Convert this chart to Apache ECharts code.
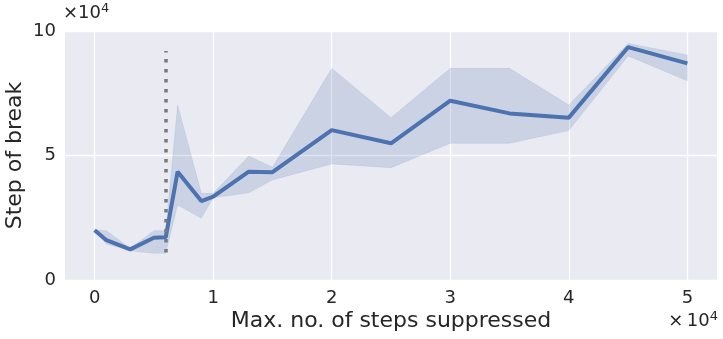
<!DOCTYPE html>
<html>
<head>
<meta charset="utf-8">
<script src="https://cdn.jsdelivr.net/npm/echarts@6/dist/echarts.min.js"></script>
<style>
  html, body { margin: 0; padding: 0; background: #fff; }
  #chart { width: 723px; height: 339px; }
</style>
</head>
<body>
<div id="chart"></div>
<script>
/* data, in units of 1e4 */
var steps = [0, 0.1, 0.3, 0.5, 0.6, 0.7, 0.9, 1.0, 1.3, 1.5, 2, 2.5, 3, 3.5, 4, 4.5, 5];
var breakMean = [2.0, 1.6, 1.23, 1.7, 1.72, 4.35, 3.17, 3.35, 4.35, 4.33, 6.02, 5.49, 7.2, 6.69, 6.52, 9.35, 8.7];
var breakLow = [1.95, 1.45, 1.17, 1.07, 1.07, 3.01, 2.48, 3.3, 3.5, 4.02, 4.66, 4.51, 5.49, 5.49, 6.0, 9.0, 8.0];
var breakHigh = [2.02, 1.98, 1.28, 1.98, 1.98, 7.03, 3.48, 3.48, 4.98, 4.53, 8.5, 6.52, 8.5, 8.5, 7.03, 9.5, 9.04];
var xTicks = [0, 1, 2, 3, 4, 5];
var cutoff = 0.6;
var cutoffSpan = [1.1, 9.2];

var blue = '#4C72B0';
var chart = echarts.init(document.getElementById('chart'));

var bandData = steps.map(function (x, i) { return [x, breakLow[i], breakHigh[i]]; });
var meanData = steps.map(function (x, i) { return [x, breakMean[i]]; });

// confidence band drawn as one polygon (upper edge then lower edge back)
function renderBand(params, api) {
    if (params.dataIndex !== 0) return;
    var pts = [];
    var i;
    for (i = 0; i < bandData.length; i++) pts.push(api.coord([bandData[i][0], bandData[i][2]]));
    for (i = bandData.length - 1; i >= 0; i--) pts.push(api.coord([bandData[i][0], bandData[i][1]]));
    return {
        type: 'polygon',
        shape: { points: pts },
        style: { fill: blue, opacity: 0.2, stroke: blue, lineWidth: 0.5 }
    };
}

var sup = {
    a: { fontSize: 18, fill: '#262626', fontFamily: 'DejaVu Sans' },
    b: { fontSize: 13, fill: '#262626', fontFamily: 'DejaVu Sans', padding: [0, 0, 9, 0] }
};

var option = {
    animation: false,
    textStyle: { fontFamily: 'DejaVu Sans' },
    grid: {
        left: 65, right: 6, top: 31, bottom: 59,
        outerBoundsMode: 'none',
        show: true, backgroundColor: '#EAEAF2', borderWidth: 0
    },
    xAxis: {
        type: 'value',
        min: -0.25, max: 5.25,
        axisLine: { show: false },
        axisTick: { show: false, customValues: xTicks },
        axisLabel: { customValues: xTicks, fontSize: 18, color: '#262626', margin: 9 },
        splitLine: { show: true, lineStyle: { color: '#fff', width: 1.3 } },
        name: 'Max. no. of steps suppressed',
        nameLocation: 'middle',
        nameGap: 30,
        nameMoveOverlap: false,
        nameTextStyle: { fontSize: 22, color: '#262626' }
    },
    yAxis: {
        type: 'value',
        min: 0, max: 10, interval: 5,
        axisLine: { show: false },
        axisTick: { show: false },
        axisLabel: { fontSize: 18, color: '#262626', margin: 9 },
        splitLine: { show: true, lineStyle: { color: '#fff', width: 1.3 } },
        name: 'Step of break',
        nameLocation: 'middle',
        nameGap: 39,
        nameMoveOverlap: false,
        nameTextStyle: { fontSize: 22, color: '#262626' }
    },
    graphic: [
        { type: 'text', left: 63, top: 2, style: { text: '{a|×10}{b|4}', rich: sup } },
        { type: 'text', right: 5, top: 310, style: { text: '{a|×\u200910}{b|4}', rich: sup } }
    ],
    series: [
        {
            type: 'custom', data: bandData, renderItem: renderBand,
            encode: { x: 0, y: [1, 2] }, silent: true, z: 2
        },
        {
            type: 'line', data: meanData,
            symbol: 'none', z: 4,
            lineStyle: { color: blue, width: 4 },
            markLine: {
                silent: true, symbol: 'none', label: { show: false },
                lineStyle: { color: '#7a7a7a', width: 3.5, type: [3.5, 6.5] },
                data: [[{ coord: [cutoff, cutoffSpan[0]] }, { coord: [cutoff, cutoffSpan[1]] }]]
            }
        }
    ]
};
chart.setOption(option);
</script>
</body>
</html>
